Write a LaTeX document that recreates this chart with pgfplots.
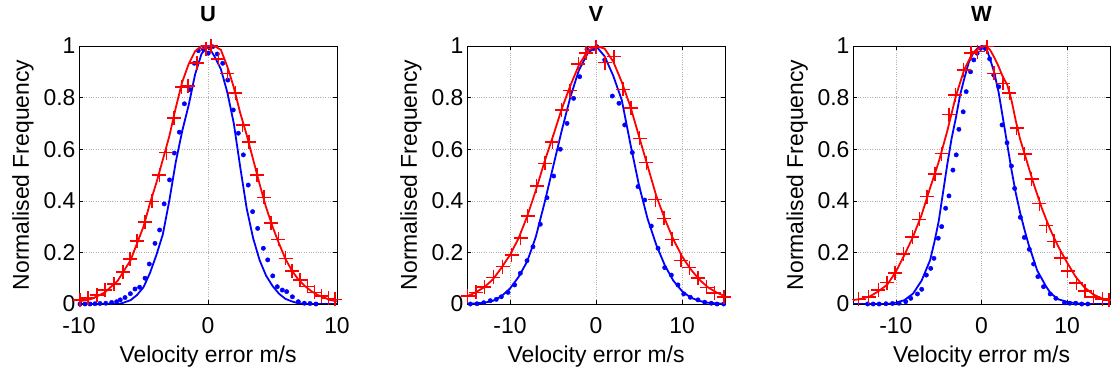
\documentclass[border=0pt]{standalone}
\usepackage{fontspec}
\setmainfont{Liberation Sans}
\usepackage{pgfplots}
\pgfplotsset{compat=1.18}
\definecolor{mred}{RGB}{255,0,0}
\definecolor{mblue}{RGB}{0,0,255}
\pgfplotsset{
 myax/.style={
  scale only axis, width=258bp, height=258bp, anchor=south west,
  ymin=0, ymax=1, ytick={0,0.2,0.4,0.6,0.8,1},
  yticklabels={0,0.2,0.4,0.6,0.8,1},
  xtick={-10,0,10},
  grid=major, major grid style={dotted, black!30, line width=0.5bp},
  tick align=inside, major tick length=4bp, tick style={black, line width=0.5bp},
  axis line style={black, line width=0.7bp},
  ticklabel style={font=\fontsize{23}{25}\selectfont},
  xticklabel style={anchor=base, yshift=-29bp},
  label style={font=\fontsize{23}{26}\selectfont},
  xlabel={Velocity error m/s}, ylabel={Normalised Frequency},
  xlabel style={at={(axis description cs:0.5,0)}, anchor=base, yshift=-58bp},
  ylabel style={at={(axis description cs:-0.217,0.5)}, anchor=center},
  title style={font=\fontsize{22}{24}\selectfont\bfseries, at={(axis description cs:0.5,1)}, anchor=base, yshift=18.5bp},
  /pgf/number format/assume math mode=true,
  clip mode=individual,
 },
 bl/.style={mblue, line width=1.8bp, no marks},
 rl/.style={mred, line width=1.8bp, no marks},
 bd/.style={only marks, mark=*, mark size=2.2bp, mblue, mark options={draw=mblue, fill=mblue}},
 rp/.style={only marks, mark=+, mark size=7bp, mred, mark options={line width=1.6bp}},
}
\begin{document}
\begin{tikzpicture}
\path[use as bounding box] (0,0) rectangle (1111bp,372bp);
% ---------------- U
\begin{axis}[myax, at={(79bp,68bp)}, xmin=-10, xmax=10, title={U}]
\addplot[bl] coordinates {(-10,0) (-7,0) (-6.8,0.001) (-6.5,0.006) (-6,0.015) (-5.5,0.035) (-5,0.065) (-4.5,0.12) (-4,0.19) (-3.5,0.27) (-3,0.40) (-2.5,0.55) (-2,0.67) (-1.5,0.77) (-1,0.89) (-0.5,0.97) (0,1.0) (0.5,0.96) (1,0.91) (1.5,0.82) (2,0.70) (2.5,0.53) (3,0.37) (3.5,0.255) (4,0.17) (4.5,0.11) (5,0.07) (5.5,0.04) (6,0.02) (6.5,0.01) (7,0.003) (7.5,0) (10,0)};
\addplot[bd] coordinates {(-9.92,0) (-9.53,0) (-9.15,0) (-8.76,0.001) (-8.37,0.002) (-7.92,0.003) (-7.47,0.006) (-7.08,0.009) (-6.8,0.016) (-6.43,0.025) (-6.02,0.04) (-5.66,0.058) (-5.3,0.065) (-4.88,0.10) (-4.55,0.155) (-4.11,0.235) (-3.75,0.287) (-3.40,0.388) (-2.98,0.481) (-2.61,0.585) (-2.22,0.666) (-1.83,0.776) (-1.43,0.831) (-1.06,0.933) (-0.75,0.982) (-0.36,0.987) (0.02,0.972) (0.36,0.997) (0.72,0.969) (1.14,0.933) (1.53,0.868) (1.96,0.752) (2.35,0.662) (2.74,0.578) (3.12,0.461) (3.46,0.358) (3.85,0.293) (4.29,0.216) (4.63,0.171) (5.02,0.109) (5.37,0.067) (5.76,0.054) (6.10,0.048) (6.54,0.028) (7.0,0.009) (7.47,0.003) (7.91,0.002) (8.37,0)};
\addplot[rl] coordinates {(-10,0.01) (-9,0.02) (-8,0.045) (-7,0.09) (-6,0.17) (-5,0.30) (-4.5,0.39) (-4,0.47) (-3.5,0.56) (-3,0.65) (-2.5,0.76) (-2,0.86) (-1.5,0.93) (-1,0.98) (-0.5,1.0) (0,1.0) (0.5,1.0) (1,0.985) (1.5,0.92) (2,0.84) (2.5,0.74) (3,0.655) (3.5,0.56) (4,0.465) (4.5,0.375) (5,0.30) (5.5,0.235) (6,0.175) (6.5,0.13) (7,0.095) (7.5,0.07) (8,0.05) (8.5,0.035) (9,0.025) (9.5,0.015) (10,0.01)};
\addplot[rp] coordinates {(-9.92,0.016) (-9.28,0.023) (-8.6,0.036) (-7.98,0.054) (-7.28,0.078) (-6.6,0.123) (-6.03,0.175) (-5.5,0.245) (-4.9,0.317) (-4.33,0.398) (-3.77,0.5) (-3.23,0.587) (-2.65,0.72) (-2.04,0.842) (-1.55,0.845) (-0.85,0.933) (-0.15,0.99) (0.25,1.0) (0.8,0.95) (1.5,0.894) (2.12,0.817) (2.68,0.694) (3.16,0.629) (3.8,0.5) (4.33,0.413) (4.9,0.314) (5.45,0.25) (6.01,0.177) (6.52,0.127) (7.13,0.093) (7.7,0.068) (8.25,0.045) (8.8,0.03) (9.33,0.022) (9.84,0.018)};
\end{axis}
% ---------------- V
\begin{axis}[myax, at={(467bp,68bp)}, xmin=-15, xmax=15, title={V}]
\addplot[bl] coordinates {(-15,0) (-13,0.005) (-12,0.012) (-11,0.03) (-10,0.06) (-9,0.105) (-8,0.165) (-7,0.26) (-6,0.39) (-5,0.53) (-4,0.67) (-3,0.80) (-2,0.905) (-1,0.97) (0,1.0) (1,0.96) (2,0.885) (3,0.79) (4,0.62) (5,0.46) (6,0.33) (7,0.23) (8,0.15) (9,0.09) (10,0.05) (11,0.025) (12,0.012) (13,0.005) (15,0)};
\addplot[bd] coordinates {(-14.61,0) (-13.84,0.001) (-13.06,0.005) (-12.29,0.013) (-11.59,0.018) (-11.01,0.028) (-10.23,0.045) (-9.46,0.074) (-8.8,0.119) (-8.02,0.168) (-7.33,0.222) (-6.48,0.309) (-5.7,0.412) (-4.92,0.496) (-4.15,0.6) (-3.37,0.7) (-2.6,0.797) (-1.9,0.881) (-1.05,0.987) (-0.3,0.99) (0.12,0.997) (1.01,0.946) (1.9,0.806) (2.67,0.778) (3.34,0.694) (4.22,0.587) (4.88,0.455) (5.66,0.403) (6.43,0.302) (7.21,0.216) (7.99,0.141) (8.76,0.112) (9.53,0.074) (10.2,0.039) (10.97,0.026) (11.86,0.016) (12.64,0.007) (13.41,0.003) (14.07,0) (14.84,0)};
\addplot[rl] coordinates {(-15,0.03) (-14,0.045) (-13,0.065) (-12,0.095) (-11,0.14) (-10,0.19) (-9,0.255) (-8,0.34) (-7,0.44) (-6,0.55) (-5,0.65) (-4,0.755) (-3,0.845) (-2,0.925) (-1,0.98) (0,1.0) (1,0.99) (2,0.94) (3,0.86) (4,0.765) (5,0.65) (6,0.535) (7,0.42) (8,0.33) (9,0.25) (10,0.185) (11,0.135) (12,0.095) (13,0.065) (14,0.045) (15,0.03)};
\addplot[rp] coordinates {(-14.92,0.03) (-13.95,0.045) (-12.98,0.065) (-11.94,0.103) (-10.85,0.145) (-9.81,0.19) (-8.76,0.255) (-7.95,0.341) (-6.9,0.457) (-5.93,0.545) (-5.06,0.627) (-4.0,0.752) (-3.02,0.827) (-2.05,0.93) (-1.16,0.974) (-0.02,0.995) (1.03,0.936) (2.1,0.959) (3.12,0.832) (4.09,0.76) (5.06,0.642) (5.87,0.548) (6.9,0.405) (7.9,0.332) (8.87,0.25) (9.88,0.169) (10.87,0.141) (11.88,0.101) (12.85,0.064) (13.76,0.043) (14.85,0.028)};
\end{axis}
% ---------------- W
\begin{axis}[myax, at={(853bp,68bp)}, width=257bp, xmin=-15, xmax=15, title={W}]
\addplot[bl] coordinates {(-15,0) (-11,0) (-10,0.005) (-9,0.015) (-8,0.04) (-7,0.09) (-6,0.17) (-5.5,0.24) (-5,0.32) (-4.5,0.43) (-4,0.54) (-3.5,0.64) (-3,0.72) (-2.5,0.81) (-2,0.875) (-1.5,0.935) (-1,0.97) (-0.5,0.99) (0,1.0) (0.5,0.997) (1,0.95) (1.5,0.895) (2,0.82) (2.5,0.72) (3,0.62) (3.5,0.52) (4,0.43) (4.5,0.355) (5,0.29) (5.5,0.23) (6,0.18) (6.5,0.13) (7,0.1) (7.5,0.07) (8,0.045) (8.5,0.03) (9,0.018) (10,0.008) (11,0.003) (12,0) (15,0)};
\addplot[bd] coordinates {(-13.3,0) (-12.64,0) (-11.94,0) (-11.16,0.001) (-10.39,0.002) (-9.62,0.003) (-8.84,0.009) (-8.26,0.022) (-7.48,0.039) (-6.98,0.057) (-6.44,0.112) (-5.93,0.138) (-5.55,0.177) (-5.05,0.255) (-4.65,0.3) (-4.19,0.371) (-3.8,0.419) (-3.34,0.519) (-2.95,0.578) (-2.64,0.677) (-2.14,0.745) (-1.79,0.823) (-1.28,0.9) (-0.9,0.946) (-0.51,0.972) (-0.12,0.991) (0.45,0.99) (0.95,0.95) (1.43,0.887) (2.01,0.842) (2.4,0.694) (2.98,0.625) (3.49,0.535) (3.87,0.448) (4.53,0.336) (5.0,0.258) (5.58,0.212) (6.08,0.155) (6.58,0.106) (7.24,0.067) (8.02,0.039) (8.68,0.022) (9.69,0.005) (10.3,0.003) (11.0,0.003) (11.7,0) (12.4,0)};
\addplot[rl] coordinates {(-15,0.015) (-14,0.02) (-13,0.03) (-12,0.05) (-11,0.075) (-10,0.125) (-9,0.19) (-8,0.26) (-7,0.345) (-6,0.45) (-5,0.55) (-4,0.67) (-3,0.805) (-2,0.91) (-1,0.975) (0,0.997) (0.5,1.0) (1,0.985) (1.5,0.955) (2,0.92) (2.5,0.88) (3,0.85) (3.5,0.79) (4,0.71) (4.5,0.64) (5,0.585) (5.5,0.53) (6,0.475) (7,0.375) (8,0.29) (9,0.22) (10,0.16) (11,0.105) (12,0.065) (13,0.038) (14,0.022) (15,0.015)};
\addplot[rp] coordinates {(-14.35,0.018) (-13.19,0.028) (-12.03,0.054) (-11.06,0.083) (-10.09,0.121) (-9.12,0.194) (-8.06,0.26) (-7.25,0.328) (-6.33,0.416) (-5.4,0.505) (-4.66,0.583) (-3.8,0.734) (-3.05,0.81) (-2.1,0.907) (-1.2,0.973) (-0.45,0.978) (0.65,0.998) (1.48,0.894) (2.5,0.855) (3.25,0.818) (4.1,0.683) (5.02,0.581) (5.85,0.485) (6.75,0.389) (7.58,0.304) (8.45,0.243) (9.23,0.179) (10.06,0.127) (11.07,0.082) (12.08,0.05) (13.05,0.028) (14.1,0.02) (14.9,0.016)};
\end{axis}
\end{tikzpicture}
\end{document}
